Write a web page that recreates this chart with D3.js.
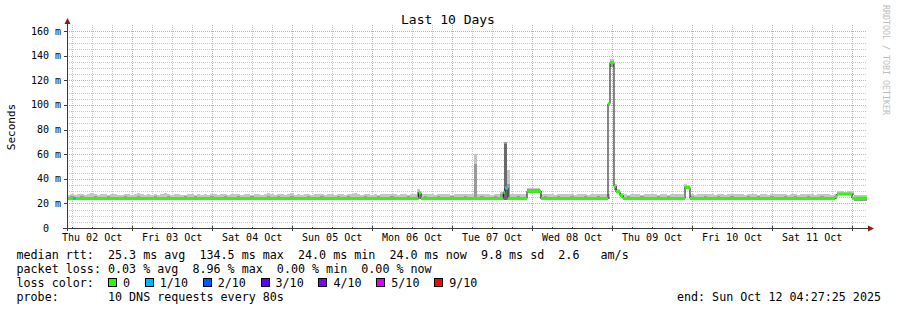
<!DOCTYPE html>
<html>
<head>
<meta charset="utf-8">
<title>Last 10 Days</title>
<script src="https://cdnjs.cloudflare.com/ajax/libs/d3/7.8.5/d3.min.js"></script>
<style>
body { margin: 0; background: #fff; }
svg text { font-family: "DejaVu Sans Mono", monospace; white-space: pre; }
</style>
</head>
<body>
<svg id="chart" width="897" height="310"></svg>
<script>

// time span of the graph (10 days up to the "end:" stamp)
var startTime = Date.UTC(2025, 9, 2, 4, 27, 25);
var endTime = Date.UTC(2025, 9, 12, 4, 27, 25);

var yTicks = [0, 20, 40, 60, 80, 100, 120, 140, 160];

// smoke, one value per hour (ms): max ping, min ping, top of the darker inner band
var smokeMax = [
  27.2,27.6,26.8,27.4,27.8,27.0,27.5,28.1,27.3,26.9,27.6,27.9,27.2,27.4,28.0,27.1,26.8,27.5,27.7,27.0,27.3,28.2,27.6,27.1,
  27.4,26.9,27.8,27.2,27.5,28.3,27.7,27.0,27.4,27.9,27.1,26.8,27.3,27.6,27.0,27.8,27.2,27.5,26.9,27.4,27.7,27.1,27.6,27.3,
  27.0,27.5,27.9,27.3,26.8,27.6,28.0,27.2,27.4,27.8,27.1,27.5,28.2,27.3,26.9,27.7,27.4,27.0,27.6,28.1,27.2,27.5,26.9,27.4,
  27.6,27.1,27.8,27.3,27.5,26.9,27.7,28.0,27.2,27.4,27.9,27.0,27.6,27.3,28.1,27.5,26.8,27.4,27.7,27.2,27.9,27.1,27.5,27.8,
  27.3,27.6,27.9,27.1,27.5,27.8,27.2,27.4,27.7,31.7,27.9,27.3,27.6,27.8,27.2,27.5,28.0,27.4,27.7,27.1,27.6,27.9,27.3,27.5,
  27.8,27.4,60.0,27.6,27.3,27.9,27.5,27.2,27.7,27.4,29.5,70.0,47.0,27.5,27.8,27.3,27.6,27.4,32.4,32.6,32.3,32.5,27.6,27.3,
  27.5,27.8,27.2,27.6,27.9,27.3,27.5,27.7,27.1,27.6,27.8,27.4,27.2,27.7,27.5,27.3,27.9,27.4,27.6,137.5,36.0,31.5,28.6,27.4,
  27.2,27.6,27.4,27.8,27.1,27.5,27.9,27.3,27.6,27.2,27.7,27.4,27.0,27.5,27.8,27.3,27.6,35.7,35.2,27.5,27.2,27.8,27.4,27.6,
  27.3,27.7,27.1,27.5,27.8,27.2,27.6,27.4,27.9,27.3,27.5,27.0,27.7,27.4,27.6,27.2,27.8,27.5,27.1,27.4,27.7,27.3,27.6,27.5,
  27.2,27.6,27.4,27.0,27.5,27.8,27.3,27.6,27.1,27.4,27.7,27.3,27.5,27.2,27.6,29.8,30.0,29.6,29.9,29.7,26.8,26.6,27.0,26.7
];
var smokeMin = [
  23.2,23.1,23.2,23.3,23.2,23.2,23.1,23.2,23.3,23.2,23.2,23.1,23.2,23.2,23.3,23.2,23.1,23.2,23.2,23.3,23.2,23.2,23.1,23.2,
  23.2,23.3,23.2,23.1,23.2,23.2,23.2,23.3,23.2,23.1,23.2,23.2,23.3,23.2,23.2,23.1,23.2,23.2,23.3,23.2,23.2,23.1,23.2,23.2,
  23.3,23.2,23.2,23.1,23.2,23.2,23.3,23.2,23.2,23.1,23.2,23.2,23.2,23.3,23.2,23.1,23.2,23.2,23.3,23.2,23.2,23.1,23.2,23.2,
  23.2,23.3,23.2,23.1,23.2,23.2,23.3,23.2,23.2,23.1,23.2,23.2,23.2,23.3,23.2,23.1,23.2,23.2,23.3,23.2,23.2,23.1,23.2,23.2,
  23.2,23.3,23.2,23.1,23.2,23.2,23.3,23.2,23.2,23.2,23.2,23.2,23.3,23.2,23.1,23.2,23.2,23.3,23.2,23.2,23.1,23.2,23.2,23.3,
  23.2,23.2,23.2,23.1,23.2,23.3,23.2,23.2,23.1,23.2,23.0,22.6,23.0,23.2,23.3,23.2,23.1,23.2,28.6,28.6,28.6,28.6,23.2,23.2,
  23.3,23.2,23.2,23.1,23.2,23.2,23.3,23.2,23.2,23.1,23.2,23.2,23.3,23.2,23.2,23.1,23.2,23.2,23.2,131.0,31.0,28.4,25.0,23.2,
  23.2,23.3,23.2,23.1,23.2,23.2,23.3,23.2,23.2,23.1,23.2,23.2,23.3,23.2,23.2,23.1,23.2,31.5,31.5,23.2,23.3,23.2,23.1,23.2,
  23.2,23.2,23.3,23.2,23.1,23.2,23.2,23.3,23.2,23.2,23.1,23.2,23.2,23.3,23.2,23.2,23.1,23.2,23.2,23.3,23.2,23.2,23.1,23.2,
  23.2,23.3,23.2,23.2,23.1,23.2,23.2,23.3,23.2,23.2,23.1,23.2,23.2,23.3,23.2,26.4,26.4,26.4,26.4,26.4,22.0,22.0,22.0,22.0
];
var smokeInner = [
  25.2,26.2,25.2,25.2,26.0,25.2,25.2,25.2,26.3,25.2,25.2,25.2,26.1,25.2,25.2,25.2,25.2,26.2,25.2,25.2,25.2,26.0,25.2,25.2,
  25.2,25.2,26.3,25.2,25.2,25.2,26.1,25.2,25.2,25.2,25.2,26.2,25.2,25.2,26.0,25.2,25.2,25.2,25.2,26.3,25.2,25.2,25.2,26.1,
  25.2,25.2,25.2,26.2,25.2,25.2,25.2,26.0,25.2,25.2,25.2,25.2,26.3,25.2,25.2,26.1,25.2,25.2,25.2,26.2,25.2,25.2,25.2,25.2,
  26.0,25.2,25.2,25.2,26.3,25.2,25.2,25.2,25.2,26.1,25.2,25.2,26.2,25.2,25.2,25.2,25.2,26.0,25.2,25.2,25.2,26.3,25.2,25.2,
  25.2,26.1,25.2,25.2,25.2,25.2,26.2,25.2,25.2,29.5,25.2,26.0,25.2,25.2,25.2,26.3,25.2,25.2,25.2,26.1,25.2,25.2,25.2,26.2,
  25.2,25.2,52.0,25.2,26.0,25.2,25.2,25.2,26.3,25.2,28.0,70.0,36.0,25.2,25.2,26.1,25.2,25.2,31.3,31.3,31.3,31.3,25.2,26.2,
  25.2,25.2,25.2,26.0,25.2,25.2,25.2,26.3,25.2,25.2,25.2,26.1,25.2,25.2,25.2,26.2,25.2,25.2,25.2,135.5,34.5,30.2,27.2,25.2,
  26.0,25.2,25.2,25.2,26.3,25.2,25.2,25.2,25.2,26.1,25.2,25.2,26.2,25.2,25.2,25.2,25.2,34.0,34.0,26.0,25.2,25.2,25.2,26.3,
  25.2,25.2,25.2,26.1,25.2,25.2,25.2,26.2,25.2,25.2,25.2,25.2,26.0,25.2,25.2,26.3,25.2,25.2,25.2,26.1,25.2,25.2,25.2,26.2,
  25.2,25.2,26.0,25.2,25.2,25.2,26.3,25.2,25.2,25.2,26.1,25.2,25.2,25.2,25.2,28.8,28.8,28.8,28.8,28.8,25.0,25.0,25.0,25.0
];
// the darkest smoke core in the Tue 07 burst: [hour, from ms, to ms]
var smokeCore = [[131, 23.0, 68.0]];

// median rtt as [hour from start, ms] change points
var medianSteps = [
  [0, 24.0], [105.5, 28.6], [106.2, 24.0], [130.9, 29.0], [131.4, 32.5], [132.3, 24.0],
  [138.0, 30.0], [142.2, 24.0], [162.3, 101.0], [162.9, 134.3], [164.1, 34.0], [164.7, 29.5],
  [165.9, 26.3], [166.8, 24.0], [185.4, 32.8], [186.9, 24.0], [230.4, 25.6], [231.0, 27.6], [235.5, 24.2]
];

// stretches where the median had loss: [from hour, to hour, loss colour index]
var lossSpans = [[1.8, 2.6, 1], [131.6, 132.1, 1]];

var lossLabels = ["0", "1/10", "2/10", "3/10", "4/10", "5/10", "9/10"];
var lossColors = ["#26ff00", "#00b8ff", "#0059ff", "#5e00ff", "#7e00ff", "#dd00ff", "#ff0000"];

var legendRtt = "median rtt:  25.3 ms avg  134.5 ms max  24.0 ms min  24.0 ms now  9.8 ms sd  2.6   am/s";
var legendLoss = "packet loss: 0.03 % avg  8.96 % max  0.00 % min  0.00 % now";
var legendProbe = "probe:       10 DNS requests every 80s";
var legendEnd = "end: Sun Oct 12 04:27:25 2025";

var svg = d3.select("#chart");
var gLeft = 67, gRight = 867, gBottom = 228, gTop = 31;

var x = d3.scaleUtc().domain([new Date(startTime), new Date(endTime)]).range([gLeft, gRight]);
var y = d3.scaleLinear().domain([0, 160]).range([gBottom, gTop]);

function hx(h) { return x(new Date(startTime + h * 3600000)); }
function px(v) { return Math.round(v) + 0.5; }

svg.append("rect").attr("width", 897).attr("height", 310).attr("fill", "#fff");

/* grid */
var grid = svg.append("g").attr("stroke-dasharray", "1,1").attr("stroke-width", 1);
var minorY = d3.range(5, 161, 5).filter(function(v) { return v % 20 != 0; });
grid.selectAll(".hmin").data(minorY).enter().append("line")
  .attr("x1", gLeft).attr("x2", gRight)
  .attr("y1", function(d) { return px(y(d)); }).attr("y2", function(d) { return px(y(d)); })
  .attr("stroke", "#c8c8c8");
var minorX = x.ticks(d3.utcHour.every(6)).filter(function(d) { return d.getUTCHours() != 0; });
grid.selectAll(".vmin").data(minorX).enter().append("line")
  .attr("x1", function(d) { return px(x(d)); }).attr("x2", function(d) { return px(x(d)); })
  .attr("y1", gBottom).attr("y2", 25)
  .attr("stroke", "#c8c8c8");
grid.selectAll(".hmaj").data(yTicks.slice(1)).enter().append("line")
  .attr("x1", gLeft).attr("x2", gRight)
  .attr("y1", function(d) { return px(y(d)); }).attr("y2", function(d) { return px(y(d)); })
  .attr("stroke", "#eaa0a0");
var days = x.ticks(d3.utcDay.every(1));
grid.selectAll(".vmaj").data(days).enter().append("line")
  .attr("x1", function(d) { return px(x(d)); }).attr("x2", function(d) { return px(x(d)); })
  .attr("y1", gBottom).attr("y2", 25)
  .attr("stroke", "#eaa0a0");

/* smoke */
var smoke = svg.append("g").attr("shape-rendering", "crispEdges");
smoke.selectAll(".outer").data(smokeMax).enter().append("rect")
  .attr("x", function(d, i) { return hx(i); })
  .attr("width", function(d, i) { return hx(i + 1) - hx(i); })
  .attr("y", function(d) { return y(d); })
  .attr("height", function(d, i) { return y(smokeMin[i]) - y(d); })
  .attr("fill", "#c6c6c6");
smoke.selectAll(".inner").data(smokeInner).enter().append("rect")
  .attr("x", function(d, i) { return hx(i); })
  .attr("width", function(d, i) { return hx(i + 1) - hx(i); })
  .attr("y", function(d) { return y(d); })
  .attr("height", function(d, i) { return Math.max(0, y(smokeMin[i]) - y(d)); })
  .attr("fill", "#9a9a9a");
smoke.selectAll(".core").data(smokeCore).enter().append("rect")
  .attr("x", function(d) { return hx(d[0]); })
  .attr("width", function(d) { return hx(d[0] + 1) - hx(d[0]); })
  .attr("y", function(d) { return y(d[2]); })
  .attr("height", function(d) { return y(d[1]) - y(d[2]); })
  .attr("fill", "#6a6a6a");

/* median */
var medPts = medianSteps.concat([[240, medianSteps[medianSteps.length - 1][1]]]);
var medLine = d3.line()
  .x(function(d) { return hx(d[0]); })
  .y(function(d) { return y(d[1]); })
  .curve(d3.curveStepAfter);
svg.append("path").attr("d", medLine(medPts))
  .attr("fill", "none").attr("stroke", "#111").attr("stroke-width", 1);

var segs = medianSteps.map(function(d, i) { return [d[0], medPts[i + 1][0], d[1]]; });
svg.selectAll(".med").data(segs).enter().append("line")
  .attr("x1", function(d) { return hx(d[0]); }).attr("x2", function(d) { return hx(d[1]); })
  .attr("y1", function(d) { return y(d[2]); }).attr("y2", function(d) { return y(d[2]); })
  .attr("stroke", lossColors[0]).attr("stroke-width", 3);

function medianAt(h) {
  var v = medianSteps[0][1];
  medianSteps.forEach(function(d) { if (d[0] <= h) v = d[1]; });
  return v;
}
svg.selectAll(".loss").data(lossSpans).enter().append("line")
  .attr("x1", function(d) { return hx(d[0]); }).attr("x2", function(d) { return hx(d[1]); })
  .attr("y1", function(d) { return y(medianAt(d[0])); }).attr("y2", function(d) { return y(medianAt(d[0])); })
  .attr("stroke", function(d) { return lossColors[d[2]]; }).attr("stroke-width", 3);

/* axes */
var ax = svg.append("g").attr("stroke", "#3a3a3a").attr("stroke-width", 1).attr("shape-rendering", "crispEdges");
ax.append("line").attr("x1", gLeft + 0.5).attr("x2", gLeft + 0.5).attr("y1", gBottom + 3).attr("y2", 24);
ax.append("line").attr("x1", gLeft - 4).attr("x2", gRight + 2).attr("y1", gBottom + 0.5).attr("y2", gBottom + 0.5);
ax.selectAll(".yt").data(yTicks).enter().append("line")
  .attr("x1", gLeft - 3).attr("x2", gLeft)
  .attr("y1", function(d) { return px(y(d)); }).attr("y2", function(d) { return px(y(d)); });
ax.selectAll(".xt").data(days).enter().append("line")
  .attr("x1", function(d) { return px(x(d)); }).attr("x2", function(d) { return px(x(d)); })
  .attr("y1", gBottom - 2).attr("y2", gBottom + 3);
ax.selectAll(".xtm").data(minorX).enter().append("line")
  .attr("x1", function(d) { return px(x(d)); }).attr("x2", function(d) { return px(x(d)); })
  .attr("y1", gBottom - 1).attr("y2", gBottom + 1);

svg.append("path").attr("d", "M" + (gLeft + 0.5) + ",18 L" + (gLeft - 2.5) + ",24 L" + (gLeft + 3.5) + ",24 Z").attr("fill", "#8b1a1a");
svg.append("path").attr("d", "M" + (gRight + 7) + "," + (gBottom + 0.5) + " L" + (gRight + 1) + "," + (gBottom - 2.5) + " L" + (gRight + 1) + "," + (gBottom + 3.5) + " Z").attr("fill", "#8b1a1a");

/* axis labels */
svg.selectAll(".yl").data(yTicks).enter().append("text")
  .attr("x", 61).attr("y", function(d) { return y(d); })
  .attr("dy", "0.35em").attr("text-anchor", "end").attr("font-size", 10)
  .text(function(d) { return d == 0 ? "0  " : d + " m"; });

var fmt = d3.utcFormat("%a %d %b");
var noons = days.map(function(d) { return d3.utcHour.offset(d, -12); })
  .concat([d3.utcHour.offset(days[days.length - 1], 12)])
  .filter(function(d) { return d >= startTime && d <= endTime; });
svg.selectAll(".xl").data(noons).enter().append("text")
  .attr("x", function(d) { return x(d); }).attr("y", 241)
  .attr("text-anchor", "middle").attr("font-size", 10)
  .text(fmt);

svg.append("text").attr("x", 448).attr("y", 24).attr("text-anchor", "middle")
  .attr("font-size", 13).text("Last 10 Days");
svg.append("text").attr("transform", "translate(15,127) rotate(-90)")
  .attr("text-anchor", "middle").attr("font-size", 11).text("Seconds");
svg.append("text").attr("transform", "translate(883,5) rotate(90)")
  .attr("font-size", 8.3).attr("fill", "#bdbdbd").text("RRDTOOL / TOBI OETIKER");

/* legend */
var fs = 11.7, cw = fs * 0.602, lx = 16.5;
svg.append("text").attr("x", lx).attr("y", 258.5).attr("font-size", fs).text(legendRtt);
svg.append("text").attr("x", lx).attr("y", 272.5).attr("font-size", fs).text(legendLoss);
svg.append("text").attr("x", lx).attr("y", 286.5).attr("font-size", fs).text("loss color:");
svg.append("text").attr("x", lx).attr("y", 300.5).attr("font-size", fs).text(legendProbe);
svg.append("text").attr("x", 881).attr("y", 300.5).attr("text-anchor", "end").attr("font-size", fs).text(legendEnd);

var bx = lx + 13 * cw;
lossLabels.forEach(function(lab, i) {
  svg.append("rect").attr("x", Math.round(bx) + 0.5).attr("y", 278.5).attr("width", 8).attr("height", 8)
    .attr("fill", lossColors[i]).attr("stroke", "#000");
  svg.append("text").attr("x", bx + 15).attr("y", 286.5).attr("font-size", fs).text(lab);
  bx = bx + 15 + lab.length * cw + 14.7;
});

</script>
</body>
</html>
